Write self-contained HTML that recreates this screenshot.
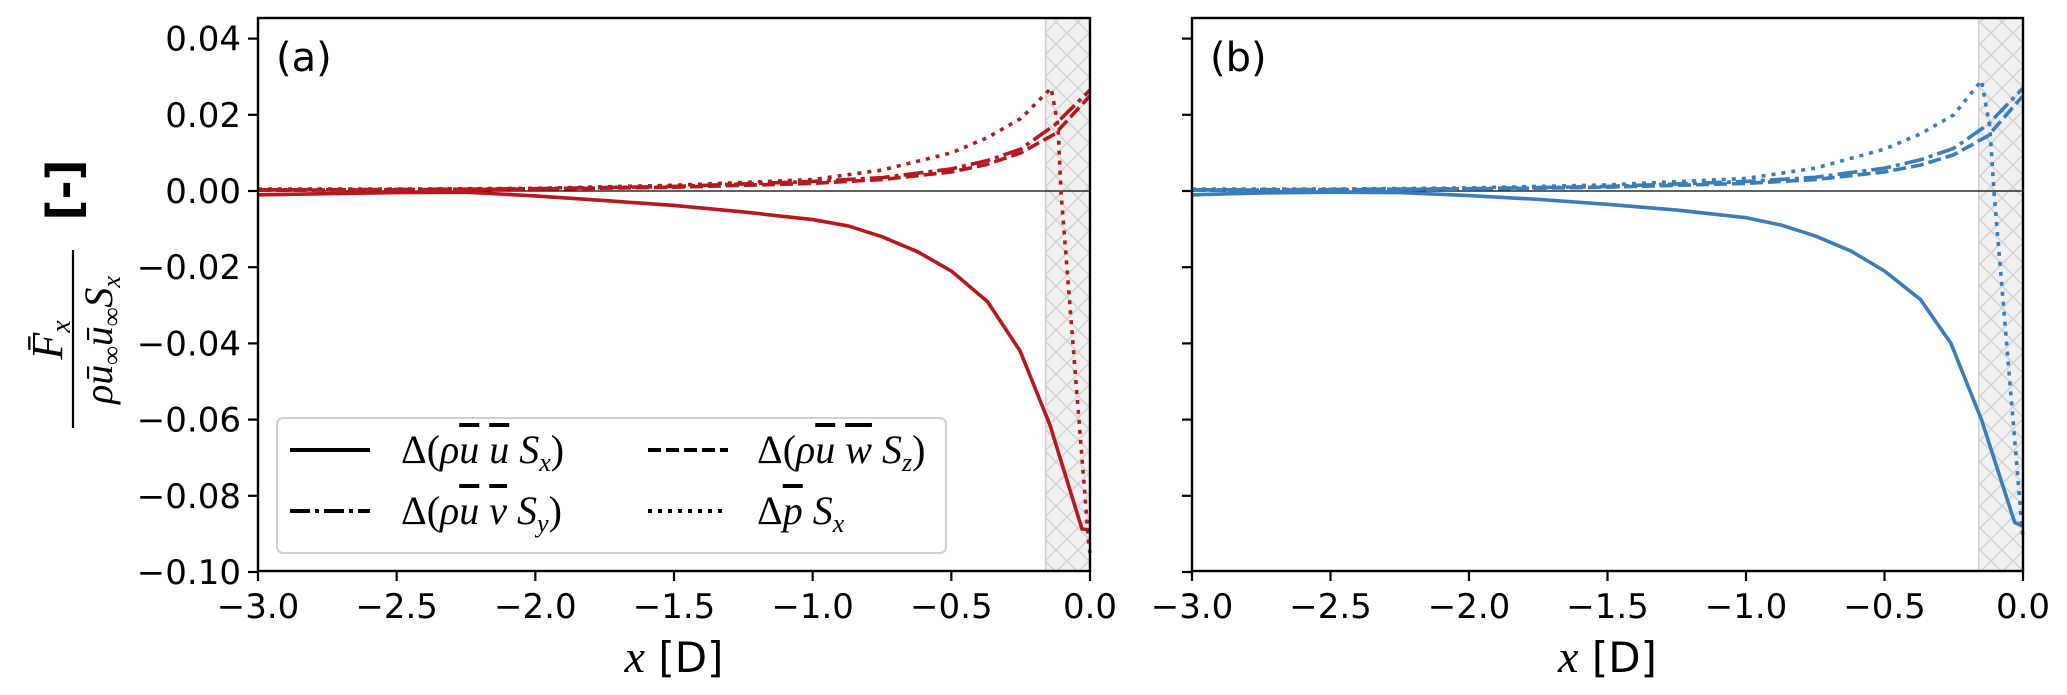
<!DOCTYPE html>
<html><head><meta charset="utf-8">
<style>
body{margin:0;background:#fff;}
svg{display:block;font-family:"DejaVu Sans","Liberation Sans",sans-serif;}
.tk{font-size:34px;fill:#000;}
.mth{font-family:"Liberation Serif",serif;font-style:italic;}
</style></head>
<body>
<svg id="chart" width="2067" height="695" viewBox="0 0 2067 695" xmlns="http://www.w3.org/2000/svg">
<defs>
<pattern id="hatch" width="22" height="22" patternUnits="userSpaceOnUse">
<rect width="22" height="22" fill="#f1f1f1"/>
<path d="M0,0L22,22M22,0L0,22" stroke="#d4d4d4" stroke-width="1.6"/>
</pattern>
</defs>
<g id="ylab">
<text x="64" y="190" font-size="46" font-weight="bold" text-anchor="middle" dominant-baseline="central" transform="rotate(-90 64 190)">[-]</text>
<line x1="73" y1="250" x2="73" y2="428" stroke="#000" stroke-width="2.2"/>
<text class="mth" x="62" y="340" font-size="44" text-anchor="middle" transform="rotate(-90 62 340)">F̄<tspan font-size="28" dy="8">x</tspan></text>
<text class="mth" x="112" y="340" font-size="40" text-anchor="middle" transform="rotate(-90 112 340)">ρū<tspan font-size="26" dy="8">∞</tspan><tspan dy="-8">ū</tspan><tspan font-size="26" dy="8">∞</tspan><tspan dy="-8">S</tspan><tspan font-size="26" dy="8">x</tspan></text>
</g>
</svg>
<script>
const xTicks=[-3.0,-2.5,-2.0,-1.5,-1.0,-0.5,0.0];
const yTicks=[0.04,0.02,0.00,-0.02,-0.04,-0.06,-0.08,-0.10];
const xTickLabels=["−3.0","−2.5","−2.0","−1.5","−1.0","−0.5","0.0"];
const yTickLabels=["0.04","0.02","0.00","−0.02","−0.04","−0.06","−0.08","−0.10"];
const shadeStart=-0.16;
const aSolidX=[-3,-2.75,-2.5,-2.25,-2,-1.75,-1.5,-1.25,-1.0,-0.87,-0.75,-0.62,-0.5,-0.37,-0.252,-0.144,-0.029,0];
const aSolidY=[-0.001,-0.0007,-0.0004,-0.0003,-0.0013,-0.0025,-0.0038,-0.0055,-0.0075,-0.0092,-0.012,-0.016,-0.021,-0.029,-0.042,-0.0615,-0.0887,-0.089];
const aDashX=[-3,-2.5,-2,-1.5,-1.0,-0.75,-0.5,-0.37,-0.25,-0.126,0];
const aDashY=[0.0002,0.0003,0.0005,0.001,0.002,0.003,0.005,0.007,0.010,0.015,0.025];
const aDashDotY=[0.0003,0.0004,0.0006,0.0012,0.0025,0.0035,0.0058,0.008,0.011,0.0174,0.0265];
const aDotX=[-3,-2.5,-2,-1.5,-1.0,-0.75,-0.5,-0.37,-0.25,-0.14,-0.115,-0.105,-0.004,0];
const aDotY=[0.0005,0.0005,0.0007,0.0015,0.003,0.0055,0.010,0.014,0.019,0.027,0.017,0.0,-0.093,-0.095];
const bSolidX=[-3,-2.75,-2.5,-2.25,-2,-1.75,-1.5,-1.25,-1.0,-0.87,-0.75,-0.62,-0.5,-0.37,-0.26,-0.15,-0.03,0];
const bSolidY=[-0.001,-0.0005,-0.0003,-0.0004,-0.0012,-0.0022,-0.0035,-0.005,-0.007,-0.009,-0.0118,-0.0158,-0.021,-0.0285,-0.040,-0.060,-0.087,-0.088];
const bDashX=[-3,-2.5,-2,-1.5,-1.0,-0.75,-0.5,-0.37,-0.25,-0.126,0];
const bDashY=[0.0002,0.0003,0.0005,0.001,0.002,0.003,0.005,0.0068,0.0095,0.0145,0.025];
const bDashDotY=[0.0003,0.0004,0.0006,0.0012,0.0025,0.0036,0.006,0.0082,0.0112,0.0175,0.027];
const bDotX=[-3,-2.5,-2,-1.5,-1.0,-0.75,-0.5,-0.37,-0.25,-0.15,-0.12,-0.105,-0.004,0];
const bDotY=[0.0005,0.0005,0.0008,0.0016,0.0033,0.006,0.011,0.015,0.020,0.029,0.017,0.0,-0.088,-0.091];

const NS="http://www.w3.org/2000/svg";
const svg=document.getElementById('chart');
function mk(tag,attrs,parent){const e=document.createElementNS(NS,tag);for(const k in attrs)e.setAttribute(k,attrs[k]);(parent||svg).appendChild(e);return e;}
const T=18,B=571;
function ys(v){return 191-(v/0.01)*38.1;}
function panel(L,R,label,color,sx,sy,dx,dy,ddy,ptx,pty,showY,key){
  const xs=v=>R+(v/3)*(R-L);
  const g=mk('g',{});
  
  
  const sh=mk('rect',{x:xs(shadeStart),y:T,width:R-xs(shadeStart),height:B-T,fill:'url(#hatch)',stroke:'#cfcfcf','stroke-width':1.5},g);
  
  
  const z=mk('line',{x1:L,x2:R,y1:ys(0),y2:ys(0),stroke:'#000','stroke-width':1.3},g);
  
  
  function series(X,Y,dash,name){
    const p=mk('polyline',{points:X.map((x,i)=>xs(x)+','+ys(Y[i])).join(' '),fill:'none',stroke:color,'stroke-width':3.6,'stroke-dasharray':dash,'stroke-linejoin':'round'},g);
    
    
  }
  series(dx,dy,'13,5','series-rho-u-w-sz-'+key);
  series(dx,ddy,'20,5,4,5','series-rho-u-v-sy-'+key);
  series(ptx,pty,'4,6','series-p-sx-'+key);
  series(sx,sy,'none','series-rho-u-u-sx-'+key);
  const fr=mk('rect',{x:L,y:T,width:R-L,height:B-T,fill:'none',stroke:'#000','stroke-width':2.4},g);
  
  
  xTicks.forEach((t,i)=>{
    mk('line',{x1:xs(t),x2:xs(t),y1:B,y2:B+10,stroke:'#000','stroke-width':2.2},g);
    const tx=mk('text',{x:xs(t),y:618,'text-anchor':'middle',class:'tk'},g);
    tx.textContent=xTickLabels[i];
    
    
  });
  yTicks.forEach((t,i)=>{
    mk('line',{x1:L-10,x2:L,y1:ys(t),y2:ys(t),stroke:'#000','stroke-width':2.2},g);
    if(showY){
      const tx=mk('text',{x:L-17,y:ys(t)+12,'text-anchor':'end',class:'tk'},g);
      tx.textContent=yTickLabels[i];
      
      
    }
  });
  const pl=mk('text',{x:L+18,y:71,'font-size':40},g);
  pl.textContent=label;
  
  
  const xl=mk('text',{x:(L+R)/2,y:672,'font-size':42,'text-anchor':'middle'},g);
  xl.innerHTML='<tspan font-family="Liberation Serif" font-style="italic" font-size="46">x</tspan> [D]';
  
  
}
panel(258,1090,'(a)','#b5191f',aSolidX,aSolidY,aDashX,aDashY,aDashDotY,aDotX,aDotY,true,'a');
panel(1192,2023,'(b)','#3b7dba',bSolidX,bSolidY,bDashX,bDashY,bDashDotY,bDotX,bDotY,false,'b');

const lg=mk('g',{});


mk('rect',{x:277,y:418,width:669,height:135,rx:6,fill:'#fff','fill-opacity':0.85,stroke:'#d0d0d0','stroke-width':2},lg);
const entries=[
 {x:290,y:450,dash:'none',tx:401,html:'<tspan font-style="normal">Δ(</tspan>ρ<tspan text-decoration="overline">u</tspan> <tspan text-decoration="overline">u</tspan> S<tspan font-size="26" dy="8">x</tspan><tspan dy="-8" font-style="normal">)</tspan>'},
 {x:290,y:511,dash:'20,5,4,5',tx:401,html:'<tspan font-style="normal">Δ(</tspan>ρ<tspan text-decoration="overline">u</tspan> <tspan text-decoration="overline">v</tspan> S<tspan font-size="26" dy="8">y</tspan><tspan dy="-8" font-style="normal">)</tspan>'},
 {x:648,y:450,dash:'13,5',tx:757,html:'<tspan font-style="normal">Δ(</tspan>ρ<tspan text-decoration="overline">u</tspan> <tspan text-decoration="overline">w</tspan> S<tspan font-size="26" dy="8">z</tspan><tspan dy="-8" font-style="normal">)</tspan>'},
 {x:648,y:511,dash:'4,6',tx:757,html:'<tspan font-style="normal">Δ</tspan><tspan text-decoration="overline">p</tspan> S<tspan font-size="26" dy="8">x</tspan>'}
];
entries.forEach(e=>{
  const it=mk('g',{},lg);
  
  
  mk('line',{x1:e.x,x2:e.x+80,y1:e.y,y2:e.y,stroke:'#000','stroke-width':4,'stroke-dasharray':e.dash},it);
  const t=mk('text',{x:e.tx,y:e.y+13,'font-size':40,'font-family':'Liberation Serif','font-style':'italic'},it);
  t.innerHTML=e.html;
});
</script>
</body></html>
